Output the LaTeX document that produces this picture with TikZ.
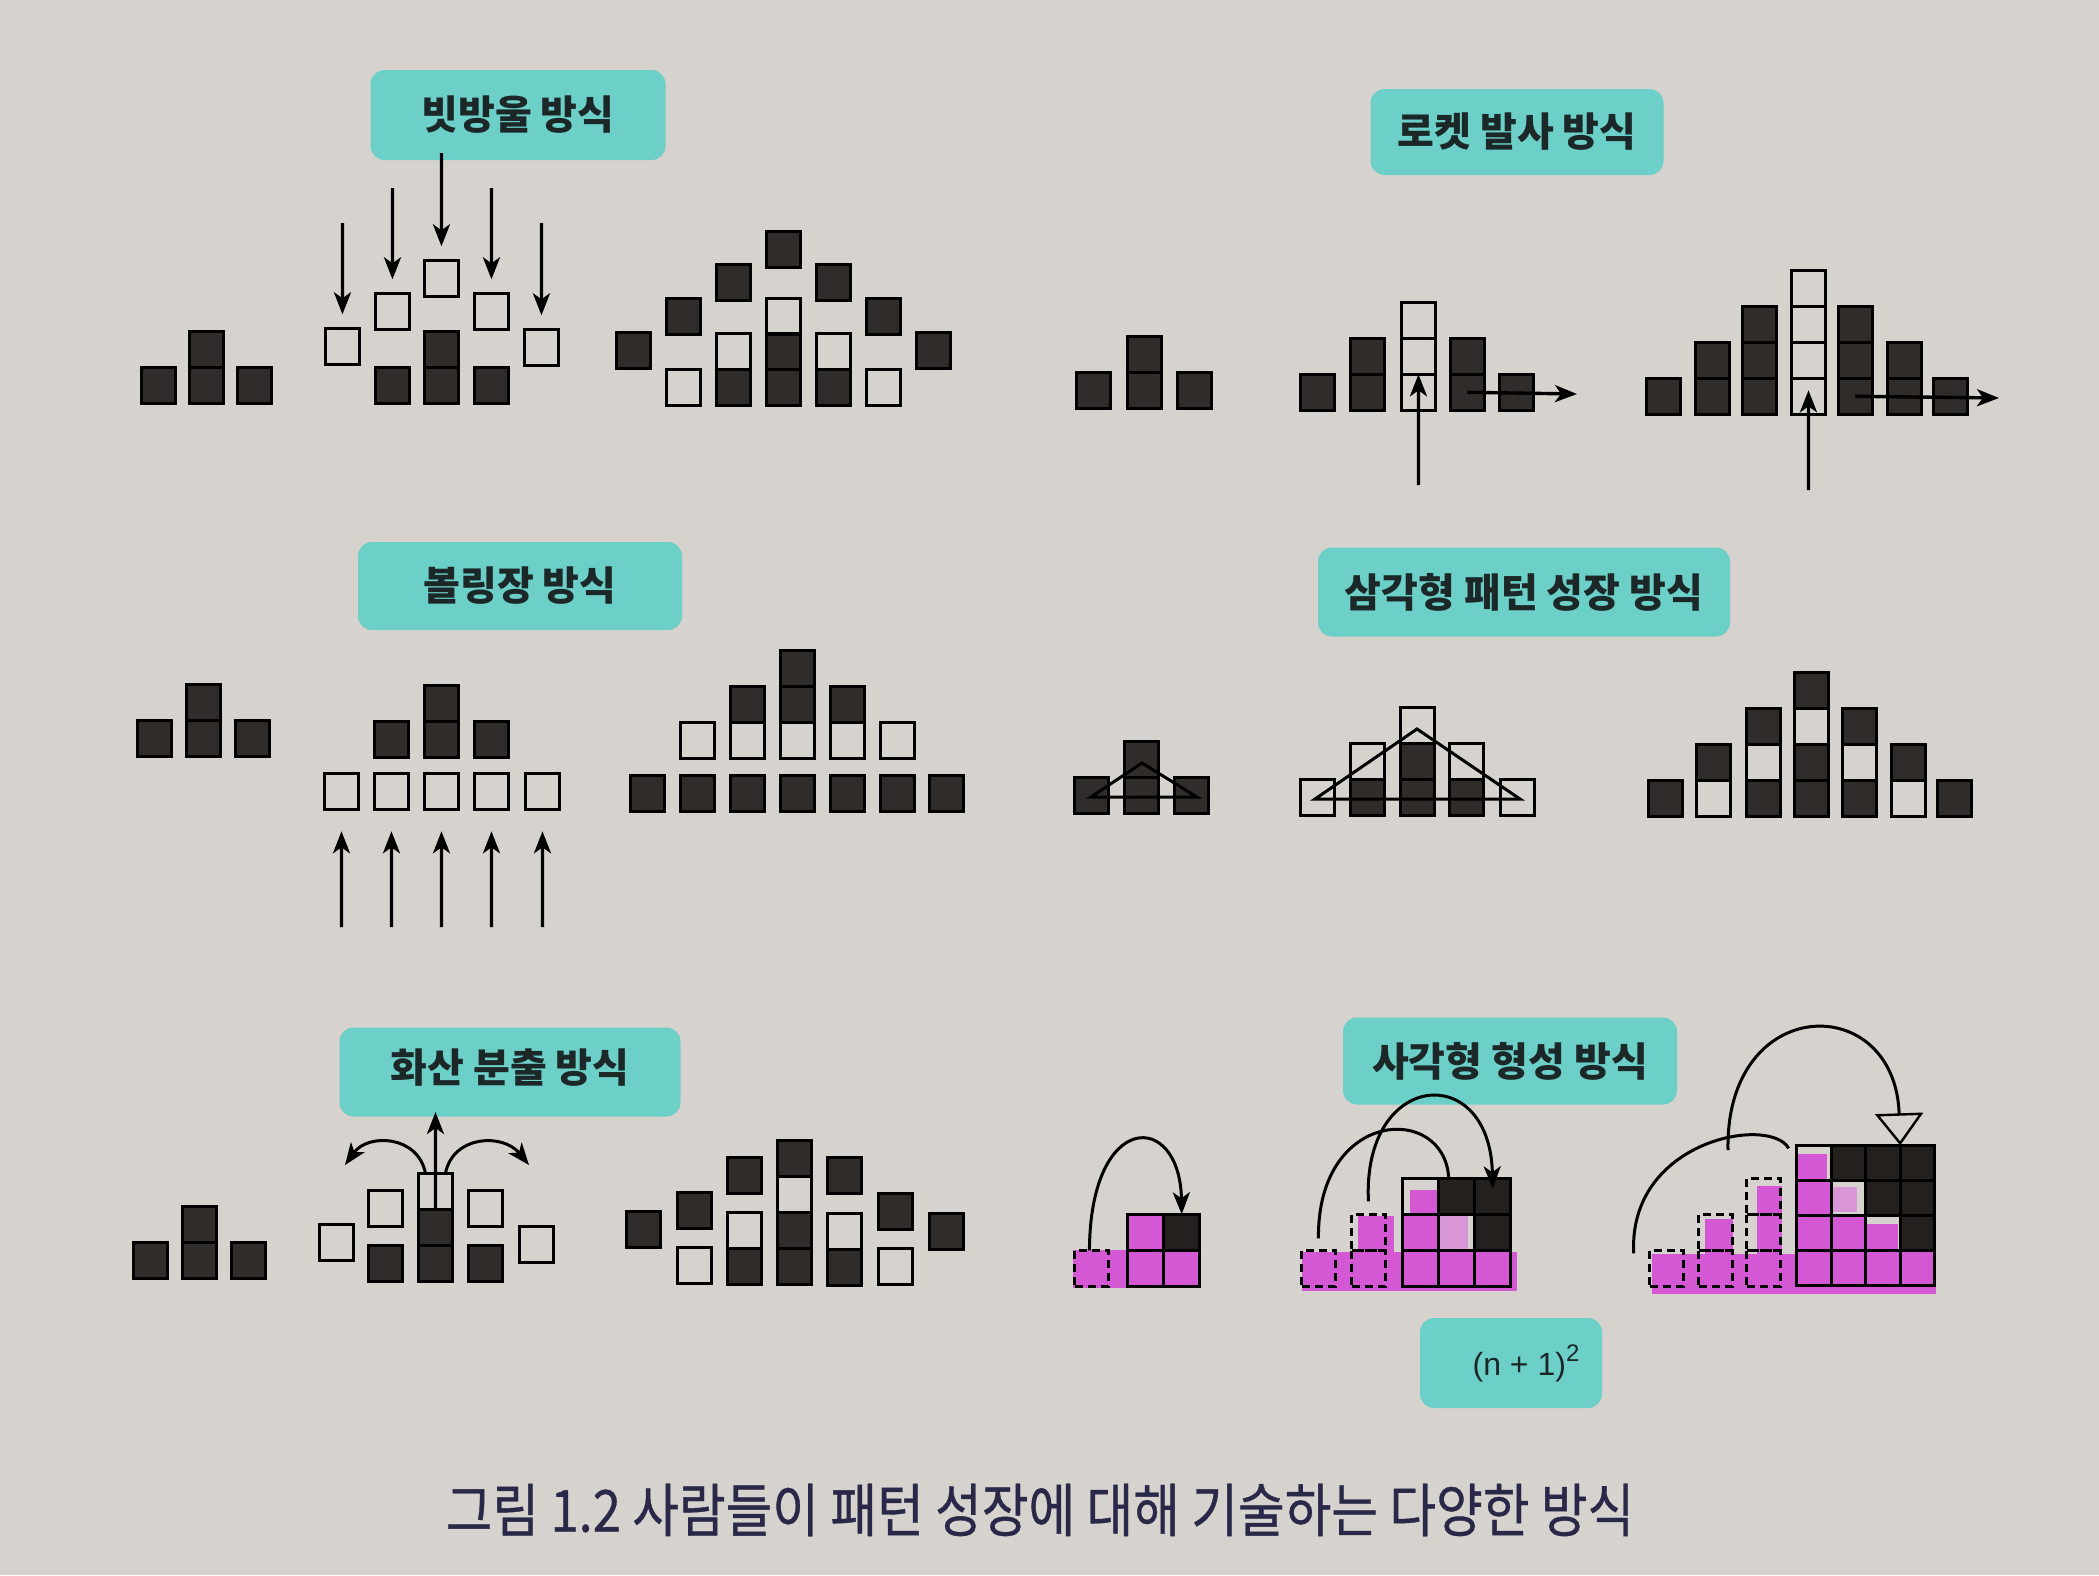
\documentclass[tikz,border=0pt]{standalone}
\usepackage{fontspec}
\usepackage{graphicx}
\newfontfamily\kr{Noto Sans CJK KR}
\newfontfamily\krcap{Noto Sans CJK KR}[FakeBold=0.7]
\newfontfamily\lsans{Liberation Sans}
\usetikzlibrary{arrows.meta}
\definecolor{bg}{RGB}{214,210,205}
\definecolor{blk}{RGB}{48,44,42}
\definecolor{dk}{RGB}{36,32,30}
\definecolor{tq}{RGB}{108,207,200}
\definecolor{mg}{RGB}{212,88,212}
\definecolor{mgl}{RGB}{216,150,214}
\definecolor{labtxt}{RGB}{28,40,40}
\definecolor{captxt}{RGB}{42,40,72}
\newcommand\cel[4]{\node[#1,anchor=south west] (#2) at ({#3+1.7},{#4-1.7}) {};}
\begin{document}
\begin{tikzpicture}[x=1pt,y=-1pt,
 cellbase/.style={rectangle,inner sep=0pt,outer sep=0pt,minimum width=33.5pt,minimum height=36pt,line width=3.4pt,draw=black},
 cellF/.style={cellbase,fill=blk},
 cellE/.style={cellbase},
 cellD/.style={cellbase,dash pattern=on 8pt off 5pt,line width=3.2pt},
 cellM/.style={cellbase,fill=mg},
 cellK/.style={cellbase,fill=dk},
 sizeQ/.style={minimum width=36pt},
 sizeR/.style={minimum width=34.5pt,minimum height=35pt},
 arrowline/.style={line width=3.4pt,-{Stealth[length=22pt,width=17pt,inset=6pt]}},
 curvline/.style={line width=3pt},
 labelbox/.style={fill=tq,rounded corners=14pt,inner sep=0pt,text=labtxt,font=\kr\bfseries\fontsize{40}{42}\selectfont}
]
\useasboundingbox (0,0) rectangle (2099,1575);
\fill[bg] (0,0) rectangle (2099,1575);

% ---------- labels ----------
\node[labelbox,minimum width=295pt,minimum height=90pt] (lab1) at (518,115) {\raisebox{-3pt}{빗방울 방식}};
\node[labelbox,minimum width=293pt,minimum height=86pt] (lab2) at (1517,132) {로켓 발사 방식};
\node[labelbox,minimum width=324pt,minimum height=88pt] (lab3) at (520,586) {볼링장 방식};
\node[labelbox,minimum width=412pt,minimum height=89pt] (lab4) at (1524,592) {삼각형 패턴 성장 방식};
\node[labelbox,minimum width=341pt,minimum height=89pt] (lab5) at (510,1072) {\raisebox{12pt}{화산 분출 방식}};
\node[labelbox,minimum width=334pt,minimum height=87pt] (lab6) at (1510,1061) {\raisebox{-4pt}{사각형 형성 방식}};
\node[labelbox,font=\lsans\fontsize{32}{34}\selectfont,minimum width=182pt,minimum height=90pt] (lab7) at (1511,1363) {\hspace*{30pt}(n + 1)\raisebox{14pt}{\fontsize{24}{24}\selectfont 2}};

% ---------- raindrop ----------
\cel{cellF}{a1}{140}{405}\cel{cellF}{a2}{188}{405}\cel{cellF}{a3}{188}{369}\cel{cellF}{a4}{236}{405}
\cel{cellE}{b1}{324}{366}
\cel{cellF}{b2}{374}{405}\cel{cellE}{b3}{374}{331}
\cel{cellF}{b4}{423}{405}\cel{cellF}{b5}{423}{369}\cel{cellE}{b6}{423}{298}
\cel{cellF}{b7}{473}{405}\cel{cellE}{b8}{473}{331}
\cel{cellE}{b9}{523}{367}
\coordinate (ba1) at (342.5,223);\coordinate (ba2) at (392.5,188);\coordinate (ba3) at (441.5,153);
\coordinate (ba4) at (491.5,188);\coordinate (ba5) at (541.5,223);
\draw[arrowline,shorten >=14pt] (ba1) -- (b1.north);
\draw[arrowline,shorten >=14pt] (ba2) -- (b3.north);
\draw[arrowline,shorten >=14pt] (ba3) -- (b6.north);
\draw[arrowline,shorten >=14pt] (ba4) -- (b8.north);
\draw[arrowline,shorten >=14pt] (ba5) -- (b9.north);
\cel{cellF}{c1}{615}{370}
\cel{cellE}{c2}{665}{407}\cel{cellF}{c3}{665}{336}
\cel{cellF}{c4}{715}{407}\cel{cellE}{c5}{715}{371}\cel{cellF}{c6}{715}{302}
\cel{cellF}{c7}{765}{407}\cel{cellF}{c8}{765}{371}\cel{cellE}{c9}{765}{336}\cel{cellF}{c10}{765}{269}
\cel{cellF}{c11}{815}{407}\cel{cellE}{c12}{815}{371}\cel{cellF}{c13}{815}{302}
\cel{cellE}{c14}{865}{407}\cel{cellF}{c15}{865}{336}
\cel{cellF}{c16}{915}{370}

% ---------- rocket ----------
\cel{cellF}{d1}{1075}{410}\cel{cellF}{d2}{1126}{410}\cel{cellF}{d3}{1126}{374}\cel{cellF}{d4}{1176}{410}
\cel{cellF}{e1}{1299}{412}
\cel{cellF}{e2}{1349}{412}\cel{cellF}{e3}{1349}{376}
\cel{cellE}{e4}{1400}{412}\cel{cellE}{e5}{1400}{376}\cel{cellE}{e6}{1400}{340}
\cel{cellF}{e7}{1449}{412}\cel{cellF}{e8}{1449}{376}
\cel{cellF}{e9}{1498}{412}
\coordinate (ea) at (1418.5,485);\coordinate (eb) at (1577,394);
\draw[arrowline] (ea) -- (e4.north);
\draw[arrowline] (e7.center) -- (eb);
\cel{cellF}{f1}{1645}{416}
\cel{cellF}{f2}{1694}{416}\cel{cellF}{f3}{1694}{380}
\cel{cellF}{f4}{1741}{416}\cel{cellF}{f5}{1741}{380}\cel{cellF}{f6}{1741}{344}
\cel{cellE}{f7}{1790}{416}\cel{cellE}{f8}{1790}{380}\cel{cellE}{f9}{1790}{344}\cel{cellE}{f10}{1790}{308}
\cel{cellF}{f11}{1837}{416}\cel{cellF}{f12}{1837}{380}\cel{cellF}{f13}{1837}{344}
\cel{cellF}{f14}{1886}{416}\cel{cellF}{f15}{1886}{380}
\cel{cellF}{f16}{1932}{416}
\coordinate (fa) at (1808.5,490);\coordinate (fb) at (1999,398);
\draw[arrowline,shorten >=12pt] (fa) -- (f7.north);
\draw[arrowline] (f11.center) -- (fb);

% ---------- bowling ----------
\cel{cellF}{g1}{136}{758}\cel{cellF}{g2}{185}{758}\cel{cellF}{g3}{185}{722}\cel{cellF}{g4}{234}{758}
\cel{cellF}{h1}{373}{759}\cel{cellF}{h2}{423}{759}\cel{cellF}{h3}{423}{723}\cel{cellF}{h4}{473}{759}
\cel{cellE}{h5}{323}{811}\cel{cellE}{h6}{373}{811}\cel{cellE}{h7}{423}{811}\cel{cellE}{h8}{473}{811}\cel{cellE}{h9}{524}{811}
\coordinate (ha1) at (341.5,927);\coordinate (ha2) at (391.5,927);\coordinate (ha3) at (441.5,927);
\coordinate (ha4) at (491.5,927);\coordinate (ha5) at (542.5,927);
\draw[arrowline,shorten >=22pt] (ha1) -- (h5.south);
\draw[arrowline,shorten >=22pt] (ha2) -- (h6.south);
\draw[arrowline,shorten >=22pt] (ha3) -- (h7.south);
\draw[arrowline,shorten >=22pt] (ha4) -- (h8.south);
\draw[arrowline,shorten >=22pt] (ha5) -- (h9.south);
\cel{cellF}{i1}{629}{813}\cel{cellF}{i2}{679}{813}\cel{cellF}{i3}{729}{813}\cel{cellF}{i4}{779}{813}
\cel{cellF}{i5}{829}{813}\cel{cellF}{i6}{879}{813}\cel{cellF}{i7}{928}{813}
\cel{cellE}{i8}{679}{760}\cel{cellE}{i9}{729}{760}\cel{cellE}{i10}{779}{760}\cel{cellE}{i11}{829}{760}\cel{cellE}{i12}{879}{760}
\cel{cellF}{i13}{729}{724}\cel{cellF}{i14}{779}{724}\cel{cellF}{i15}{779}{688}\cel{cellF}{i16}{829}{724}

% ---------- triangle ----------
\cel{cellF}{j1}{1073}{815}\cel{cellF}{j2}{1123}{815}\cel{cellF}{j3}{1123}{779}\cel{cellF}{j4}{1173}{815}
\coordinate (tj1) at (1091,797);\coordinate (tj2) at (1142,763);\coordinate (tj3) at (1197,797);
\draw[line width=3pt,line join=miter] (tj1) -- (tj2) -- (tj3) -- cycle;
\cel{cellE}{k1}{1299}{817}
\cel{cellF}{k2}{1349}{817}\cel{cellE}{k3}{1349}{781}
\cel{cellF}{k4}{1399}{817}\cel{cellF}{k5}{1399}{781}\cel{cellE}{k6}{1399}{745}
\cel{cellF}{k7}{1448}{817}\cel{cellE}{k8}{1448}{781}
\cel{cellE}{k9}{1499}{817}
\coordinate (tk1) at (1315,799);\coordinate (tk2) at (1417,729);\coordinate (tk3) at (1520,799);
\draw[line width=3pt,line join=miter] (tk1) -- (tk2) -- (tk3) -- cycle;
\cel{cellF}{l1}{1647}{818}
\cel{cellE}{l2}{1695}{818}\cel{cellF}{l3}{1695}{782}
\cel{cellF}{l4}{1745}{818}\cel{cellE}{l5}{1745}{782}\cel{cellF}{l6}{1745}{746}
\cel{cellF}{l7}{1793}{818}\cel{cellF}{l8}{1793}{782}\cel{cellE}{l9}{1793}{746}\cel{cellF}{l10}{1793}{710}
\cel{cellF}{l11}{1841}{818}\cel{cellE}{l12}{1841}{782}\cel{cellF}{l13}{1841}{746}
\cel{cellE}{l14}{1890}{818}\cel{cellF}{l15}{1890}{782}
\cel{cellF}{l16}{1936}{818}

% ---------- volcano ----------
\cel{cellF}{m1}{132}{1280}\cel{cellF}{m2}{181}{1280}\cel{cellF}{m3}{181}{1244}\cel{cellF}{m4}{230}{1280}
\cel{cellE}{n1}{318}{1262}
\cel{cellF}{n2}{367}{1283}\cel{cellE}{n3}{367}{1228}
\cel{cellF}{n4}{417}{1283}\cel{cellF}{n5}{417}{1247}\cel{cellE}{n6}{417}{1211}
\cel{cellF}{n7}{467}{1283}\cel{cellE}{n8}{467}{1228}
\cel{cellE}{n9}{518}{1264}
\coordinate (nv) at (435.5,1112);\coordinate (nl) at (345,1165);\coordinate (nr) at (529,1165);
\draw[arrowline] (n5.north) -- (nv);
\draw[arrowline,line width=3pt] ([xshift=-10pt]n6.north) .. controls (418,1135) and (368,1133) .. (nl);
\draw[arrowline,line width=3pt] ([xshift=10pt]n6.north) .. controls (453,1135) and (503,1133) .. (nr);
\cel{cellF}{o1}{625}{1249}
\cel{cellE}{o2}{676}{1285}\cel{cellF}{o3}{676}{1230}
\cel{cellF}{o4}{726}{1286}\cel{cellE}{o5}{726}{1250}\cel{cellF}{o6}{726}{1195}
\cel{cellF}{o7}{776}{1286}\cel{cellF}{o8}{776}{1250}\cel{cellE}{o9}{776}{1214}\cel{cellF}{o10}{776}{1178}
\cel{cellF}{o11}{826}{1287}\cel{cellE}{o12}{826}{1251}\cel{cellF}{o13}{826}{1195}
\cel{cellE}{o14}{877}{1286}\cel{cellF}{o15}{877}{1231}
\cel{cellF}{o16}{928}{1251}

% ---------- squares ----------
\fill[mg] (1073,1250) rectangle (1198,1288);
\cel{cellD}{p0}{1073}{1288}
\cel{cellM,sizeQ}{p1}{1126}{1252}\cel{cellK,sizeQ}{p2}{1162}{1252}
\cel{cellM,sizeQ}{p3}{1126}{1288}\cel{cellM,sizeQ}{p4}{1162}{1288}
\draw[arrowline,curvline] ([xshift=-2pt]p0.north) .. controls (1090,1110) and (1180,1110) .. (p2.north);

\fill[mg] (1302,1252) rectangle (1517,1291);
\fill[mg] (1358,1216) rectangle (1394,1252);
\fill[mg] (1410,1190) rectangle (1437,1216);
\fill[mgl] (1437,1216) rectangle (1468,1250);
\cel{cellD}{q0}{1300}{1288}\cel{cellD}{q1}{1350}{1288}\cel{cellD}{q2}{1350}{1252}
\cel{cellE,sizeQ}{q3}{1401}{1216}\cel{cellK,sizeQ}{q4}{1437}{1216}\cel{cellK,sizeQ}{q5}{1473}{1216}
\cel{cellM,sizeQ}{q6}{1401}{1252}\cel{cellE,sizeQ}{q7}{1437}{1252}\cel{cellK,sizeQ}{q8}{1473}{1252}
\cel{cellM,sizeQ}{q9}{1401}{1288}\cel{cellM,sizeQ}{q10}{1437}{1288}\cel{cellM,sizeQ}{q11}{1473}{1288}
\draw[curvline] ([yshift=12pt]q0.north) .. controls (1317,1108) and (1445,1103) .. ([xshift=-8pt]q4.north);
\draw[arrowline,curvline] ([yshift=13pt]q2.north) .. controls (1362,1070) and (1490,1060) .. ([yshift=-10pt]q5.north);

\fill[mg] (1652,1254) rectangle (1936,1294);
\fill[mg] (1705,1219) rectangle (1733,1254);
\fill[mg] (1757,1186) rectangle (1782,1254);
\fill[mg] (1798,1154) rectangle (1827,1182);
\fill[mgl] (1830,1187) rectangle (1857,1212);
\fill[mg] (1864,1224) rectangle (1898,1252);
\cel{cellD}{r17}{1648}{1288}
\cel{cellD}{r18}{1697}{1288}\cel{cellD}{r19}{1697}{1252}
\cel{cellD}{r20}{1745}{1288}\cel{cellD}{r21}{1745}{1252}\cel{cellD}{r22}{1745}{1216}
\cel{cellE,sizeR}{r1}{1795}{1182}\cel{cellK,sizeR}{r2}{1829.5}{1182}\cel{cellK,sizeR}{r3}{1864}{1182}\cel{cellK,sizeR}{r4}{1898.5}{1182}
\cel{cellM,sizeR}{r5}{1795}{1217}\cel{cellE,sizeR}{r6}{1829.5}{1217}\cel{cellK,sizeR}{r7}{1864}{1217}\cel{cellK,sizeR}{r8}{1898.5}{1217}
\cel{cellM,sizeR}{r9}{1795}{1252}\cel{cellM,sizeR}{r10}{1829.5}{1252}\cel{cellE,sizeR}{r11}{1864}{1252}\cel{cellK,sizeR}{r12}{1898.5}{1252}
\cel{cellM,sizeR}{r13}{1795}{1287}\cel{cellM,sizeR}{r14}{1829.5}{1287}\cel{cellM,sizeR}{r15}{1864}{1287}\cel{cellM,sizeR}{r16}{1898.5}{1287}
\coordinate (rs) at (1728,1150);
\draw[curvline] ([xshift=-16pt,yshift=-3pt]r17.north west) .. controls (1628,1140) and (1770,1115) .. ([xshift=-8pt,yshift=-3pt]r1.north west);
\draw[curvline,-{Triangle[open,length=32pt,width=48pt,line width=2.4pt]}] (rs) .. controls (1725,993) and (1895,990) .. (r4.north west);

% ---------- caption ----------
\node[font=\krcap\fontsize{58}{60}\selectfont,text=captxt] (cap) at (1040,1510) {\scalebox{0.875}[1]{그림 1.2 사람들이 패턴 성장에 대해 기술하는 다양한 방식}};
\end{tikzpicture}
\end{document}
